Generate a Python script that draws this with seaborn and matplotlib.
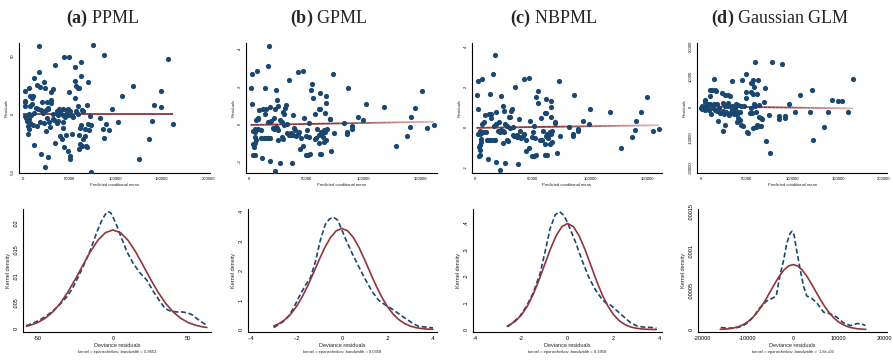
import matplotlib
matplotlib.use('Agg')
import matplotlib.pyplot as plt
import numpy as np
import seaborn as sns
from matplotlib.collections import LineCollection
from matplotlib.colors import to_rgb

# ---------------- residual vs predicted mean ----------------
ppml_pred = [17000, 76000, 87000, 44000, 49500, 62500, 157000, 35000, 56500, 63000,
             17000, 12000, 23000, 56000, 70000, 15500, 18000, 24000, 57500, 59500,
             61000, 32500, 30000, 6000, 2500, 50000, 119000, 149000, 107000, 56000,
             8000, 10000, 11000, 2000, 2000, 8000, 10000, 30000, 30000, 26000,
             20500, 69000, 59000, 142000, 149000, 96500, 14500, 16000, 19000, 25000,
             27500, 27000, 39000, 41000, 43000, 46000, 48500, 51000, 57500, 63500,
             65000, 7000, 12000, 22000, 32500, 38000, 39500, 43000, 48500, 52500,
             54000, 59500, 72000, 3000, 6000, 4500, 8000, 5000, 6000, 5000,
             11000, 15500, 18500, 23000, 26000, 28500, 29000, 25000, 34000, 37000,
             43000, 43000, 40000, 42000, 46000, 44500, 48500, 51000, 51000, 52500,
             60000, 60000, 61500, 64000, 65000, 62000, 67000, 70000, 73000, 67500,
             69000, 68000, 74000, 83000, 86000, 87000, 90000, 93000, 103000, 125000,
             136000, 139000, 162000, 12000, 20000, 27500, 24000, 34500, 47500, 36500,
             38000, 45500, 2500, 2500, 8500, 32500, 71000, 63000]
ppml_resid = [58, 59, 51, 49, 49, 45, 47, 42, 40, 33,
              36, 31, 27, 28, 27, 25, 23, 22, 24, 22,
              22, 21, 19, 22, 20, 19, 24, 20, 15, 14,
              15, 14, 15, 10.5, 7, 7, 8.5, 12, 9, 10,
              10, 7.6, 7, 8, 6, 4, 5, 4, 3, 3,
              4, 5, 4.4, 3.5, 4.4, 3, 3.8, 2, 2.3, 3,
              2, 0, 1, 0.6, -0.3, -1, 1, -1, -1, -2,
              -2.6, 0, -1.5, -4, -4.4, -6, -8, -10.5, -13, -17,
              -10, -10.5, -7, -8, -3.5, -6.7, -11, -15, -5.6, -8,
              -7, -12, -19, -22, -18, -29, -32, -36, -39, -17,
              -18, -30, -26, -28, -22, -12, -13, -8.5, -9.6, -19,
              -29, -28, -50, -4, -13, -21, -9, -14, -7, -39,
              -22, -6, -9, -27, -35, -37, -46, -25, -0.3, 2,
              -6, -3, 11, -1.5, -1, -4.7, -14, -10]

gpml_pred = [17250, 16080, 2630, 6430, 42700, 47100, 73400, 35100, 55300, 1750,
             13450, 23100, 54000, 62000, 67000, 55800, 86800, 151200, 2630, 24600,
             25400, 22800, 32200, 31000, 8500, 12000, 14300, 13700, 17800, 29800,
             30700, 60800, 62300, 57900, 66700, 67000, 102300, 118400, 145600, 38600,
             48000, 52600, 70500, 95300, 99700, 141500, 7300, 7900, 21300, 16700,
             18700, 26600, 28700, 5600, 7300, 9900, 2900, 4700, 21600, 23100,
             24600, 20500, 33000, 36500, 34500, 38600, 40900, 42400, 43600, 50600,
             52300, 58200, 61500, 63700, 65800, 67800, 66700, 64300, 61100, 57300,
             65500, 67300, 74600, 86000, 85700, 90400, 90100, 83000, 140600, 138000,
             155900, 161700, 128700, 5000, 5600, 4700, 3500, 4100, 4700, 3500,
             12600, 14300, 17800, 10500, 24900, 28400, 29200, 47400, 44400, 49700,
             51500, 53200, 61700, 62900, 71900, 11400, 18400, 26600, 22200, 37700,
             50000, 45000, 36500, 39500, 33300, 30100, 25400, 16700, 4700, 6100,
             59400, 62900, 70500, 40100]
gpml_resid = [.412, .307, .264, .282, .277, .284, .264, .236, .210, .189,
              .190, .183, .180, .166, .150, .139, .189, .173, .104, .130,
              .097, .078, .102, .086, .072, .078, .079, .055, .090, .062,
              .055, .081, .081, .053, .060, .113, .106, .088, .086, .046,
              .032, .007, .028, .039, .021, .035, .033, .026, .032, .011,
              .018, .019, .009, -.032, -.028, -.030, -.037, -.041, -.028, -.014,
              -.021, -.023, -.002, -.048, -.056, -.058, -.063, -.053, -.041, -.032,
              -.069, -.076, -.056, -.046, -.033, -.028, -.041, -.067, -.099, -.078,
              -.095, -.085, -.049, -.042, -.055, -.011, -.025, .004, -.016, -.062,
              -.021, -.007, -.115, -.070, -.085, -.099, -.107, -.123, -.162, -.167,
              -.072, -.074, -.074, -.072, -.085, -.070, -.078, -.118, -.130, -.164,
              -.167, -.159, -.157, -.160, -.144, -.181, -.197, -.206, -.247, -.208,
              -.062, -.074, -.060, -.023, -.049, -.005, -.030, -.076, -.025, .023,
              -.025, -.041, .026, -.032]

nb_pred = [16900, 15700, 2300, 6100, 42200, 46500, 73000, 34900, 54700, 1500,
           12800, 22700, 53200, 61300, 66300, 54900, 86000, 150000, 2000, 24100,
           24700, 8100, 11600, 13700, 17700, 13400, 32000, 30800, 29900, 29100,
           60500, 61900, 57600, 66300, 66000, 100300, 117200, 144500, 37800, 47400,
           51500, 69800, 94200, 98800, 140400, 7300, 20600, 16300, 18300, 26200,
           27900, 4900, 6700, 9000, 2600, 4100, 21200, 22400, 23800, 19800,
           32600, 36000, 34000, 38100, 40100, 41600, 42700, 50000, 51700, 58400,
           61600, 63100, 65100, 67200, 66000, 63400, 60500, 56700, 64800, 66600,
           74100, 85200, 84900, 89500, 89200, 82000, 139500, 136600, 154700, 160200,
           127000, 4700, 5200, 4400, 3200, 3800, 4100, 2900, 12200, 14000,
           17400, 10200, 24400, 27900, 28800, 46800, 43900, 49100, 50900, 52600,
           61000, 62200, 70900, 10800, 18000, 26200, 21800, 37200, 49400, 44500,
           36300, 39000, 32800, 29900, 25000, 16000, 4400, 6100, 58700, 62200,
           69800]
nb_resid = [3.59, 2.64, 2.30, 2.41, 2.40, 2.45, 2.30, 2.03, 1.80, 1.62,
            1.64, 1.57, 1.52, 1.42, 1.32, 1.21, 1.62, 1.49, 0.91, 1.06,
            0.83, 0.61, 0.66, 0.68, 0.78, 0.46, 0.89, 0.79, 0.53, 0.50,
            0.69, 0.69, 0.48, 0.99, 0.53, 0.93, 0.76, 0.74, 0.41, 0.30,
            0.08, 0.25, 0.33, 0.17, 0.30, 0.26, 0.26, 0.08, 0.15, 0.15,
            0.08, -0.28, -0.25, -0.26, -0.35, -0.36, -0.23, -0.12, -0.17, -0.20,
            0.02, -0.41, -0.46, -0.48, -0.55, -0.45, -0.35, -0.26, -0.56, -0.63,
            -0.46, -0.36, -0.26, -0.21, -0.33, -0.55, -0.84, -0.64, -0.81, -0.73,
            -0.43, -0.35, -0.46, -0.10, -0.21, 0.03, -0.13, -0.51, -0.18, -0.07,
            -1.01, -0.60, -0.73, -0.86, -0.96, -1.11, -1.39, -1.45, -0.63, -0.64,
            -0.64, -0.63, -0.76, -0.63, -0.69, -1.04, -1.16, -1.42, -1.45, -1.39,
            -1.36, -1.39, -1.26, -1.60, -1.72, -1.80, -2.15, -1.82, -0.51, -0.63,
            -0.50, -0.17, -0.40, -0.02, -0.26, -0.64, -0.20, 0.17, -0.20, -0.33,
            0.20]

glm_pred = [59100, 77400, 88300, 49300, 14200, 166800, 34300, 44900, 56600, 62400,
            54400, 56200, 57700, 70400, 9900, 12400, 15000, 16100, 22600, 26300,
            29900, 31400, 48900, 55100, 56900, 61700, 9500, 4400, 121500, 108000,
            143400, 149600, 154800, 96400, 48900, 68600, 1100, 2900, 400, 5800,
            7300, 10200, 13900, 17200, 13100, 20100, 23700, 26300, 29600, 33900,
            38300, 40500, 43800, 46700, 59100, 4400, 7700, 11300, 15300, 17900,
            21200, 23700, 24800, 27700, 30700, 32900, 35800, 39400, 43100, 53700,
            56200, 60600, 55100, 63500, 65300, 66800, 74500, 18300, 25900, 40900,
            42300, 39100, 43800, 46000, 56900, 59900, 61700, 63500, 65700, 50400,
            51100, 24100, 85000, 85400, 91600, 92400, 102600, 119000, 139400, 161000,
            134700, 122600, 71500, 75200, 58400, 38300, 33900, 1500, 4000, 5500,
            8400, 29200, 63900, 37200]
glm_resid = [14900, 15000, 14100, 10800, 9200, 9300, 8500, 8900, 9100, 8900,
             8100, 7800, 6800, 6200, 5800, 5800, 5700, 5300, 4600, 3900,
             4100, 3700, 5100, 5100, 4500, 4500, 3700, 2500, 5500, 3900,
             2500, 2200, 2200, 1000, 3100, 1800, 500, -100, -200, 500,
             1100, 1000, 900, 1000, -200, -200, 1500, 300, 300, 400,
             1000, 800, 500, 400, 400, -1000, -400, -2200, -1000, -1100,
             -1800, -1100, -2300, -1700, -2500, -1400, -2300, -2100, -1700, -1800,
             -1800, -1400, -200, -3100, -3600, -3900, -2700, -4400, -5700, -3600,
             -4200, -5000, -5900, -6200, -6800, -6500, -5700, -6300, -6100, -8100,
             -8500, -7900, -3000, -3800, -3500, -3000, -1400, -1700, -1700, -1600,
             -6500, -10600, -11000, -14900, 1200, -1100, -500, -500, 1600, -100,
             -800, 1300, 800, -100]

# fitted lines through the residual clouds
ppml_fit_x, ppml_fit_y = [500, 162500], [0, 0]
gpml_fit_x, gpml_fit_y = [1000, 161700], [-0.005, 0.012]
nb_fit_x, nb_fit_y = [900, 160200], [-0.03, 0.10]
glm_fit_x, glm_fit_y = [400, 166800], [300, -400]

# ---------------- kernel density (dashed) and normal density (solid) ----------------
ppml_kx = [-57.6, -52.8, -48, -44, -39.5, -35, -30.6, -27, -24, -19.5, -15, -10.6, -7.3, -5, -3.5,
           -1.5, 0, 2.5, 5, 9.3, 13.7, 18, 22.6, 27, 31.5, 34.8, 38, 42, 46, 50, 53, 56, 60, 63]
ppml_ky = [.0006, .0011, .0018, .0025, .0035, .0047, .0061, .0076, .0093, .0120, .0149, .0184, .0206,
           .0217, .0222, .0220, .0212, .0196, .0177, .0146, .0123, .0106, .0092, .0070, .0051, .0038,
           .0034, .0032, .0032, .0030, .0026, .0019, .0011, .0006]
ppml_nx = [-57.5, -55, -50, -45, -40, -35, -30, -25, -20, -15, -10, -5, 0,
           5, 10, 15, 20, 25, 30, 35, 40, 45, 50, 55, 60, 62.5]
ppml_ny = [.00049, .00067, .00119, .00201, .00321, .00485, .00695, .00941, .01205, .01462, .01678,
           .01822, .01873, .01822, .01678, .01462, .01205, .00941, .00695, .00485, .00321, .00201,
           .00119, .00067, .00035, .00025]

gpml_kx = [-0.30, -0.278, -0.256, -0.234, -0.212, -0.19, -0.161, -0.139, -0.117, -0.095,
           -0.073, -0.055, -0.037, -0.018, -0.003, 0.015, 0.044, 0.073, 0.103, 0.132,
           0.161, 0.19, 0.22, 0.264, 0.308, 0.337, 0.366, 0.40]
gpml_ky = [.07, .17, .29, .46, .74, 1.09, 1.50, 1.75, 2.29, 3.03,
           3.57, 3.75, 3.81, 3.71, 3.43, 3.09, 2.60, 2.15, 1.70, 1.30,
           1.00, .84, .70, .46, .23, .11, .09, .06]
gpml_nx = [-0.3, -0.275, -0.25, -0.225, -0.2, -0.175, -0.15, -0.125, -0.1, -0.075, -0.05, -0.025, 0,
           0.025, 0.05, 0.075, 0.1, 0.125, 0.15, 0.175, 0.2, 0.225, 0.25, 0.275, 0.3, 0.325, 0.35,
           0.375, 0.4]
gpml_ny = [.123, .210, .340, .528, .782, 1.106, 1.493, 1.925, 2.370, 2.786, 3.127, 3.352, 3.43,
           3.352, 3.127, 2.786, 2.370, 1.925, 1.493, 1.106, .782, .528, .340, .210, .123, .069, .037,
           .019, .009]

nb_kx = [-2.62, -2.36, -2.07, -1.78, -1.49, -1.2, -0.98, -0.76, -0.54, -0.35,
         -0.15, 0.04, 0.34, 0.63, 0.92, 1.21, 1.5, 1.65, 1.87, 2.16,
         2.45, 2.74, 3.03, 3.32, 3.62, 3.86]
nb_ky = [.010, .028, .050, .088, .138, .208, .290, .377, .428, .440,
         .425, .390, .327, .258, .195, .148, .113, .100, .091, .069,
         .047, .025, .013, .009, .008, .005]
nb_nx = [-2.625, -2.5, -2.25, -2, -1.75, -1.5, -1.25, -1, -0.75, -0.5,
         -0.25, 0, 0.25, 0.5, 0.75, 1, 1.25, 1.5, 1.75, 2,
         2.25, 2.5, 2.75, 3, 3.25, 3.5, 3.75, 3.85]
nb_ny = [.0132, .0182, .0326, .0551, .0875, .1306, .1833, .2418, .3001, .3501,
         .384, .396, .384, .3501, .3001, .2418, .1833, .1306, .0875, .0551,
         .0326, .0182, .0095, .0047, .0022, .0009, .0004, .0003]

glm_kx = [-15900, -14600, -13200, -11700, -10200, -8700, -7300, -5800, -4700, -3700,
          -2900, -2100, -1400, -660, -220, 220, 800, 1540, 2280, 3000,
          4100, 5200, 6700, 8200, 9600, 11100, 12600, 14100, 15100, 15900]
glm_ky = [2.6e-6, 2.1e-6, 1.7e-6, 3.4e-6, 7.7e-6, 1.62e-5, 2.78e-5, 3.63e-5, 3.93e-5, 4.27e-5,
          6.84e-5, 8.76e-5, 1.09e-4, 1.22e-4, 1.25e-4, 1.20e-4, 1.0e-4, 7.7e-5, 5.56e-5, 4.27e-5,
          3.97e-5, 3.42e-5, 2.22e-5, 2.0e-5, 1.58e-5, 8.5e-6, 5.1e-6, 7.7e-6, 7.3e-6, 5.1e-6]
glm_nx = [-16000, -15000, -14000, -13000, -12000, -11000, -10000, -9000, -8000, -7000, -6000,
          -5000, -4000, -3000, -2000, -1000, 0, 1000, 2000, 3000, 4000, 5000, 6000, 7000, 8000,
          9000, 10000, 11000, 12000, 13000, 14000, 15000, 16000]
glm_ny = [3.5e-7, 6.7e-7, 1.25e-6, 2.22e-6, 3.8e-6, 6.21e-6, 9.73e-6, 1.459e-5, 2.10e-5, 2.893e-5,
          3.82e-5, 4.835e-5, 5.86e-5, 6.81e-5, 7.57e-5, 8.08e-5, 8.25e-5, 8.08e-5, 7.57e-5, 6.81e-5,
          5.86e-5, 4.835e-5, 3.82e-5, 2.893e-5, 2.10e-5, 1.459e-5, 9.73e-6, 6.21e-6, 3.8e-6, 2.22e-6,
          1.25e-6, 6.7e-7, 3.5e-7]

# ---------------- titles, ticks, notes ----------------
letters = ['(a)', '(b)', '(c)', '(d)']
models = ['PPML', 'GPML', 'NBPML', 'Gaussian GLM']
bandwidths = ['5.9653', '0.0358', '0.3958', ' 1.8e+03']

sc_xticks = [[0, 50000, 100000, 150000, 200000], [0, 50000, 100000, 150000],
             [0, 50000, 100000, 150000], [0, 50000, 100000, 150000, 200000]]
sc_yticks = [[-50, 0, 50], [-.2, 0, .2, .4], [-2, 0, 2, 4], [-20000, -10000, 0, 10000, 20000]]
sc_ylabels = [['-50', '0', '50'], ['-.2', '0', '.2', '.4'], ['-2', '0', '2', '4'],
              ['-20000', '-10000', '0', '10000', '20000']]
kd_xticks = [[-50, 0, 50], [-.4, -.2, 0, .2, .4], [-4, -2, 0, 2, 4],
             [-20000, -10000, 0, 10000, 20000]]
kd_xlabels = [['-50', '0', '50'], ['-.4', '-.2', '0', '.2', '.4'], ['-4', '-2', '0', '2', '4'],
              ['-20000', '-10000', '0', '10000', '20000']]
kd_yticks = [[0, .005, .01, .015, .02], [0, 1, 2, 3, 4], [0, .1, .2, .3, .4],
             [0, .00005, .0001, .00015]]
kd_ylabels = [['0', '.005', '.01', '.015', '.02'], ['0', '1', '2', '3', '4'],
              ['0', '.1', '.2', '.3', '.4'], ['0', '.00005', '.0001', '.00015']]

# ---------------- layout (pixels) ----------------
W, H = 893, 361
sc_boxes = [(19, 43, 210, 173), (246, 43, 437, 173), (472, 43, 662, 173), (697, 43, 887, 173)]
kd_boxes = [(23, 209, 211, 332), (248, 209, 437, 332), (473, 209, 662, 332), (698, 209, 887, 332)]
sc_xlims = [(-4300, 202000), (-2900, 164600), (-2900, 162800), (-4400, 203700)]
sc_ylims = [(-51, 61), (-0.26, 0.43), (-2.28, 4.2), (-21600, 21100)]
kd_xlims = [(-59.8, 65.2), (-0.413, 0.418), (-4.11, 4.1), (-20900, 20650)]
kd_ylims = [(-0.0006, 0.0227), (-0.08, 4.09), (-0.009, 0.45), (-3e-6, 1.53e-4)]
title_cx = [103, 329, 554, 780]

navy = '#1a476f'
maroon = '#90353b'
pink = '#e3b3b8'

sns.set_style('white')
plt.rcParams['font.family'] = ['Liberation Sans', 'DejaVu Sans']
plt.rcParams['mathtext.fontset'] = 'custom'
plt.rcParams['mathtext.rm'] = 'Liberation Serif'
plt.rcParams['mathtext.bf'] = 'Liberation Serif:bold'

fig = plt.figure(figsize=(W / 100, H / 100), dpi=100)


def px_axes(box):
    l, t, r, b = box
    return fig.add_axes([l / W, 1 - b / H, (r - l) / W, (b - t) / H])


def style(ax, size):
    for s in ['top', 'right']:
        ax.spines[s].set_visible(False)
    for s in ['left', 'bottom']:
        ax.spines[s].set_color('black')
        ax.spines[s].set_linewidth(0.8)
    ax.tick_params(length=2, width=0.5, pad=1, labelsize=size, colors='black')
    for lab in ax.get_yticklabels():
        lab.set_rotation(90)
        lab.set_va('center')


def gradient_line(ax, xs, ys, fade):
    xx = np.linspace(xs[0], xs[1], 40)
    yy = np.linspace(ys[0], ys[1], 40)
    pts = np.column_stack([xx, yy]).reshape(-1, 1, 2)
    segs = np.concatenate([pts[:-1], pts[1:]], axis=1)
    c0, c1 = np.array(to_rgb(maroon)), np.array(to_rgb(pink))
    t = np.clip((np.linspace(0, 1, len(segs)) - 0.45) / 0.55, 0, 1) if fade else np.zeros(len(segs))
    cols = [tuple(c0 + (c1 - c0) * v) for v in t]
    ax.add_collection(LineCollection(segs, colors=cols, linewidths=1.3))


scatters = [(ppml_pred, ppml_resid), (gpml_pred, gpml_resid), (nb_pred, nb_resid), (glm_pred, glm_resid)]
fits = [(ppml_fit_x, ppml_fit_y), (gpml_fit_x, gpml_fit_y), (nb_fit_x, nb_fit_y), (glm_fit_x, glm_fit_y)]
kernels = [(ppml_kx, ppml_ky), (gpml_kx, gpml_ky), (nb_kx, nb_ky), (glm_kx, glm_ky)]
normals = [(ppml_nx, ppml_ny), (gpml_nx, gpml_ny), (nb_nx, nb_ny), (glm_nx, glm_ny)]

for i in range(4):
    # title
    fig.text(title_cx[i] / W, 1 - 18 / H, r'$\mathbf{' + letters[i] + '}$ ' + models[i],
             ha='center', va='center', family='Liberation Serif', fontsize=13)

    # residual scatter
    ax = px_axes(sc_boxes[i])
    sns.scatterplot(x=scatters[i][0], y=scatters[i][1], ax=ax, color=navy, s=14,
                    linewidth=0, zorder=3)
    gradient_line(ax, fits[i][0], fits[i][1], fade=(i > 0))
    ax.set_xlim(*sc_xlims[i])
    ax.set_ylim(*sc_ylims[i])
    ax.set_xticks(sc_xticks[i])
    ax.set_xticklabels([str(v) for v in sc_xticks[i]])
    ax.set_yticks(sc_yticks[i])
    ax.set_yticklabels(sc_ylabels[i])
    ax.set_xlabel('Predicted conditional mean', fontsize=3, labelpad=1.5)
    ax.set_ylabel('Residuals', fontsize=3, labelpad=1.5)
    style(ax, 3)

    # kernel density vs normal density
    ax = px_axes(kd_boxes[i])
    sns.lineplot(x=kernels[i][0], y=kernels[i][1], ax=ax, color=navy, lw=1.2,
                 sort=False, estimator=None)
    ax.lines[-1].set_dashes((3, 1.6))
    sns.lineplot(x=normals[i][0], y=normals[i][1], ax=ax, color=maroon, lw=1.2,
                 sort=False, estimator=None)
    ax.set_xlim(*kd_xlims[i])
    ax.set_ylim(*kd_ylims[i])
    ax.set_xticks(kd_xticks[i])
    ax.set_xticklabels(kd_xlabels[i])
    ax.set_yticks(kd_yticks[i])
    ax.set_yticklabels(kd_ylabels[i])
    ax.set_xlabel('Deviance residuals', fontsize=4, labelpad=1.5)
    ax.set_ylabel('Kernel density', fontsize=4, labelpad=2)
    style(ax, 4)
    l, t, r, b = kd_boxes[i]
    fig.text((l + r) / 2 / W, 1 - 352 / H,
             'kernel = epanechnikov, bandwidth = ' + bandwidths[i],
             ha='center', va='center', fontsize=3)

fig.savefig('out.png', dpi=100)
